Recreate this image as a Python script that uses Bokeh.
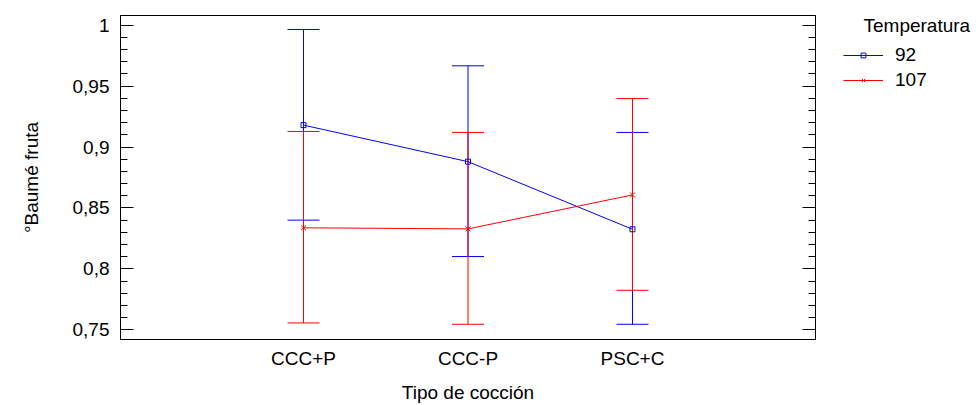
from bokeh.plotting import figure
from bokeh.layouts import row
from bokeh.models import (ColumnDataSource, Range1d, FixedTicker, LinearAxis, Whisker,
                          TeeHead, Legend, LegendItem, Label, CustomJSTickFormatter)
from bokeh.embed import file_html
from bokeh.resources import INLINE

# Means and interval limits of fruit °Baumé by cooking type and temperature
cooking_types = ["CCC+P", "CCC-P", "PSC+C"]

mean_92 = [0.918, 0.888, 0.8325]
lower_92 = [0.840, 0.8101, 0.7545]
upper_92 = [0.9965, 0.9667, 0.912]

mean_107 = [0.8337, 0.8328, 0.8607]
lower_107 = [0.7556, 0.7545, 0.7824]
upper_107 = [0.9128, 0.912, 0.9398]

series_labels = ["92", "107"]
legend_title = "Temperatura"

y_ticks = [0.75, 0.8, 0.85, 0.9, 0.95, 1.0]
y_minor_ticks = [round(0.75 + 0.01 * i, 2) for i in range(26)]

FONT = "Liberation Sans"
FS = "19px"
BLUE = "#0000ff"
RED = "#ff0000"

positions = [i + 1 for i in range(len(cooking_types))]

# ---- main chart -------------------------------------------------------------
p = figure(width=826, height=405, output_backend="svg", toolbar_location=None,
           x_range=Range1d(-0.1125, 4.1125), y_range=Range1d(0.742, 1.008),
           min_border_left=120, min_border_right=11, min_border_top=15,
           min_border_bottom=63)
p.xgrid.visible = False
p.ygrid.visible = False
p.outline_line_color = "black"
p.outline_line_alpha = 1.0
p.background_fill_color = "white"
p.border_fill_color = "white"

# x axis: category names, no ticks
xa = p.xaxis[0]
xa.ticker = FixedTicker(ticks=positions)
xa.formatter = CustomJSTickFormatter(args=dict(names=cooking_types),
                                     code="return names[Math.round(tick) - 1] || '';")
xa.major_tick_in = 0
xa.major_tick_out = 0
xa.minor_tick_in = 0
xa.minor_tick_out = 0
xa.axis_line_color = "black"
xa.major_label_text_font = FONT
xa.major_label_text_font_size = FS
xa.major_label_text_color = "black"
xa.major_label_standoff = 8
xa.axis_label = "Tipo de cocción"
xa.axis_label_text_font = FONT
xa.axis_label_text_font_size = FS
xa.axis_label_text_font_style = "normal"
xa.axis_label_text_color = "black"
xa.axis_label_standoff = 10

# y axis with decimal comma labels and inward ticks
comma_fmt = CustomJSTickFormatter(code="""
    let s = tick.toFixed(2);
    s = s.replace(/0+$/, '').replace(/\\.$/, '');
    return s.replace('.', ',');
""")
ya = p.yaxis[0]
ya.ticker = FixedTicker(ticks=y_ticks, minor_ticks=y_minor_ticks)
ya.formatter = comma_fmt
ya.major_tick_in = 13
ya.major_tick_out = 0
ya.minor_tick_in = 7
ya.minor_tick_out = 0
ya.major_tick_line_color = "black"
ya.minor_tick_line_color = "black"
ya.axis_line_color = "black"
ya.major_label_text_font = FONT
ya.major_label_text_font_size = FS
ya.major_label_text_color = "black"
ya.major_label_standoff = 11
ya.axis_label = "°Baumé fruta"
ya.axis_label_text_font = FONT
ya.axis_label_text_font_size = FS
ya.axis_label_text_font_style = "normal"
ya.axis_label_text_color = "black"
ya.axis_label_standoff = 28

# mirrored ticks on the right side, no labels
ra = LinearAxis(ticker=FixedTicker(ticks=y_ticks, minor_ticks=y_minor_ticks),
                formatter=CustomJSTickFormatter(code="return '';"),
                major_tick_in=13, major_tick_out=0, minor_tick_in=7, minor_tick_out=0,
                major_tick_line_color="black", minor_tick_line_color="black",
                axis_line_color="black", major_label_standoff=0,
                major_label_text_font_size="1px")
p.add_layout(ra, "right")

series = [
    (series_labels[0], mean_92, lower_92, upper_92, BLUE, "square", 5),
    (series_labels[1], mean_107, lower_107, upper_107, RED, "x", 7),
]

sources = []
for label, mean, lower, upper, color, marker, msize in series:
    src = ColumnDataSource(dict(x=positions, mean=mean, lower=lower, upper=upper))
    sources.append(src)
    w = Whisker(base="x", lower="lower", upper="upper", source=src,
                line_color=color, line_width=1,
                upper_head=TeeHead(size=32, line_color=color, line_width=1),
                lower_head=TeeHead(size=32, line_color=color, line_width=1))
    p.add_layout(w)
    p.line("x", "mean", source=src, line_color=color, line_width=1)
    p.scatter("x", "mean", source=src, marker=marker, size=msize,
              line_color=color, fill_color=None, line_width=1)

# ---- legend strip: y data runs as pixels measured up from the page bottom ----
lg = figure(width=150, height=405, output_backend="svg", toolbar_location=None,
            x_range=Range1d(0, 150), y_range=Range1d(63, 390),
            x_axis_location=None, y_axis_location=None,
            min_border=0, min_border_left=0, min_border_right=0,
            min_border_top=15, min_border_bottom=63)
lg.xgrid.visible = False
lg.ygrid.visible = False
lg.outline_line_color = None
lg.background_fill_color = "white"
lg.border_fill_color = "white"

# key renderers share the series data; it falls outside this strip's range,
# so only their legend swatches show
items = []
for (label, mean, lower, upper, color, marker, msize), src in zip(series, sources):
    kl = lg.line("x", "mean", source=src, line_color=color, line_width=1)
    km = lg.scatter("x", "mean", source=src, marker=marker, size=msize,
                    line_color=color, fill_color=None, line_width=1)
    items.append(LegendItem(label=label, renderers=[kl, km]))

legend = Legend(items=items, location=(17, 248), padding=0, margin=0,
                border_line_color=None, background_fill_alpha=0,
                glyph_width=40, glyph_height=12, label_height=22, spacing=3,
                label_standoff=12, label_text_font=FONT, label_text_font_size=FS,
                label_text_color="black")
lg.add_layout(legend, "center")

lg.add_layout(Label(x=37, y=380, text=legend_title, text_font=FONT, text_font_size=FS,
                    text_color="black", text_baseline="middle", text_align="left"))

layout = row(p, lg, spacing=0)
open("out.html", "w").write(file_html(layout, INLINE))
